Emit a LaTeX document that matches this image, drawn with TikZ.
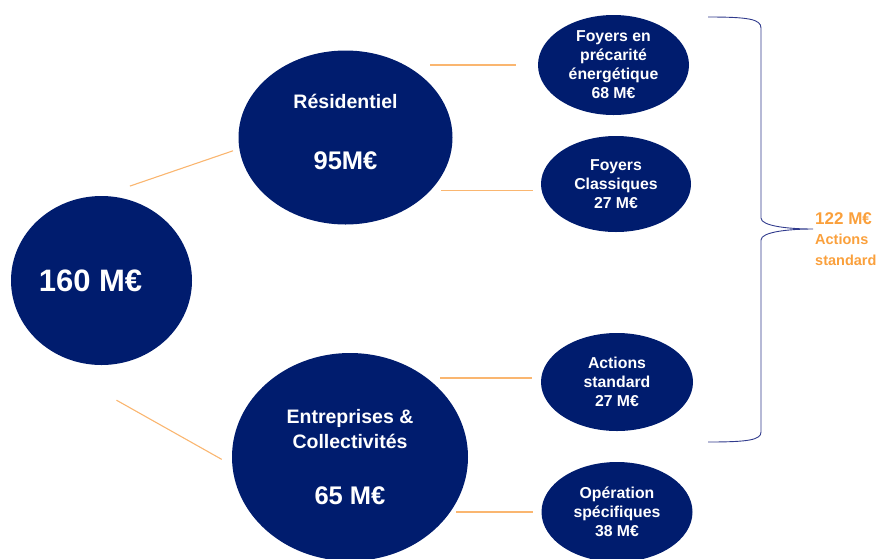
\documentclass[tikz,border=0pt]{standalone}
\usepackage{fontspec}
\setmainfont{Liberation Sans}
\usetikzlibrary{shapes.geometric}
\definecolor{navy}{RGB}{0,28,110}
\definecolor{lineorange}{RGB}{250,182,112}
\definecolor{lblorange}{RGB}{250,160,60}
\definecolor{bracenavy}{RGB}{48,58,140}

\begin{document}
\begin{tikzpicture}[x=1pt,y=-1pt,
  bubble/.style={ellipse,fill=navy,text=white,align=center,inner sep=0pt},
  small/.style={bubble,font=\bfseries\fontsize{15.8}{19}\selectfont},
  link/.style={draw=lineorange,line width=1.1pt}]
 \useasboundingbox (0,0) rectangle (878,558);
 % \draw[help lines] (0,0) grid (878,558);
  \node[bubble,minimum width=181,minimum height=169,font=\bfseries\fontsize{31}{36}\selectfont] (root) at (101.5,280.5) {160 M€\hspace*{22pt}};
  \node[bubble,minimum width=214,minimum height=174,font=\bfseries] (res) at (345.5,137.5)
     {{\fontsize{19.5}{24}\selectfont Résidentiel}\\[42pt]{\fontsize{25.5}{30}\selectfont 95M€\rule[-12pt]{0pt}{0pt}}};
  \node[bubble,minimum width=236,minimum height=208,font=\bfseries\fontsize{19.5}{25}\selectfont] (ent) at (350,457)
     {Entreprises \&\\Collectivités\\[31pt]{\fontsize{25.5}{30}\selectfont 65 M€}};
  \node[small,minimum width=151,minimum height=100] (foyA) at (613.5,65) {Foyers en\\précarité\\énergétique\\68 M€};
  \node[small,minimum width=150,minimum height=96]  (foyB) at (616,184)  {Foyers\\Classiques\\27 M€};
  \node[small,minimum width=152,minimum height=98]  (actA) at (617,382)  {Actions\\standard\\27 M€};
  \node[small,minimum width=151,minimum height=100] (opB)  at (617,512)  {Opération\\spécifiques\\38 M€};

  \draw[link,shorten <=30,shorten >=6.5] (root.north) -- (res.186);
  \draw[link,shorten >=12] ([xshift=15,yshift=-35]root.south) -- (ent.184);
  \draw[link,shorten <=-22.5,shorten >=22] (res.east |- foyA.west) -- (foyA.west);
  \draw[link,shorten <=-11.5,shorten >=8.7] (res.east |- foyB.185) -- (foyB.185);
  \draw[link,shorten <=-28,shorten >=9] (ent.east |- actA.177) -- (actA.177);
  \draw[link,shorten <=-12,shorten >=8] (ent.east |- opB.west) -- (opB.west);

  % brace round the standard actions
  \coordinate (tip) at (813,229);
  \draw[bracenavy,line width=0.9pt]
     (708,17) .. controls (748,17) and (761,19) .. (761,28) -- (761,218)
     .. controls (761,226) and (788,229) .. (tip)
     .. controls (788,229) and (761,232) .. (761,240) -- (761,432)
     .. controls (761,440) and (748,442) .. (708,442);
  \node[anchor=north west,inner sep=0pt,align=left,text=lblorange,
        font=\bfseries\fontsize{14.5}{20.5}\selectfont] (total) at (815,212)
     {{\fontsize{17}{21}\selectfont 122 M€}\\Actions\\standard};
\end{tikzpicture}
\end{document}
